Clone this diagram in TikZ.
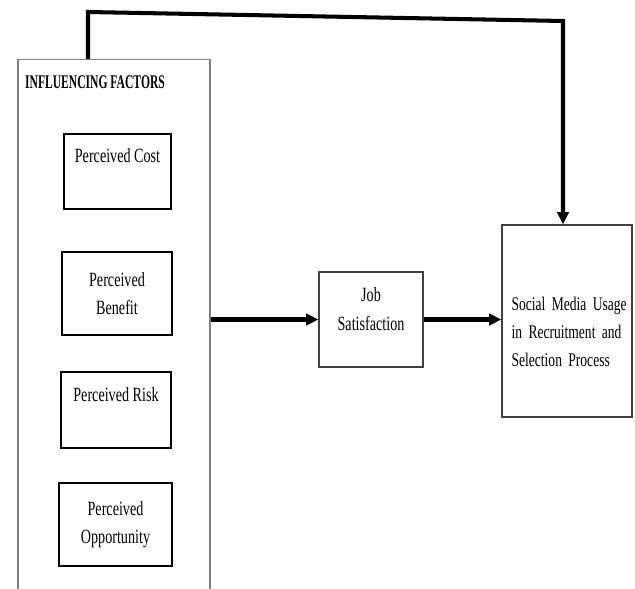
\documentclass[tikz,border=0pt]{standalone}
\usepackage{fontspec}
\setmainfont[FakeStretch=0.7]{Liberation Serif}
\newfontfamily\titlefont[FakeStretch=0.6]{Liberation Serif}
\usetikzlibrary{arrows.meta,positioning}
\begin{document}
\begin{tikzpicture}[x=0.02cm, y=-0.02cm,
  frame/.style={draw=black!50, line width=0.9pt, minimum width=3.84cm, minimum height=10.82cm},
  factorbox/.style={draw, line width=0.6pt, minimum width=2.2cm, align=center,
    font=\fontsize{11.5}{16.2}\selectfont},
  mainbox/.style={draw=black!75, line width=0.7pt, align=center,
    font=\fontsize{11.5}{16.2}\selectfont},
  flow/.style={line width=2.3pt, -{Triangle[length=7pt, width=6.5pt]}}]
  \clip (0,0) rectangle (635,588);
  % left column
  \node[frame] (factors) at (114,330) {};
  \node[font=\titlefont\bfseries\fontsize{11}{13}\selectfont] (title) at (95,82) {INFLUENCING FACTORS};
  \node[factorbox, minimum width=2.14cm, minimum height=1.5cm] (cost) at (117.5,171.5) {Perceived Cost\\[2pt]~};
  \node[factorbox, minimum height=1.66cm] (benefit) at (117,293.5) {Perceived\\Benefit};
  \node[factorbox, minimum height=1.52cm] (risk) at (116,410) {Perceived Risk\\[2pt]~};
  \node[factorbox, minimum width=2.26cm, minimum height=1.66cm] (opportunity) at (115.5,524.5) {Perceived\\Opportunity};
  % middle and right
  \node[mainbox, minimum width=2.08cm, minimum height=1.9cm] (job) at (371,319.5)
    {Job\\Satisfaction\rule[-12pt]{0pt}{1pt}};
  \node[mainbox, minimum width=2.6cm, minimum height=3.84cm, text width=63pt, align=left,
    font=\fontsize{11}{16.2}\selectfont] (social) at (567,321)
    {\rule{0pt}{20pt}\mbox{Social Media Usage}\\\makebox[\linewidth][s]{in Recruitment and}\\\mbox{Selection Process}};
  % connectors
  \coordinate (topL) at (88,12);
  \coordinate (topR) at (563,21);
  \draw[flow] (factors.east |- job.west) -- (job.west);
  \draw[flow] (job.east) -- (social.west |- job.east);
  \draw[flow] (factors.north -| topL) -- (topL) -- (topR) -- (topR |- social.north);
\end{tikzpicture}
\end{document}
